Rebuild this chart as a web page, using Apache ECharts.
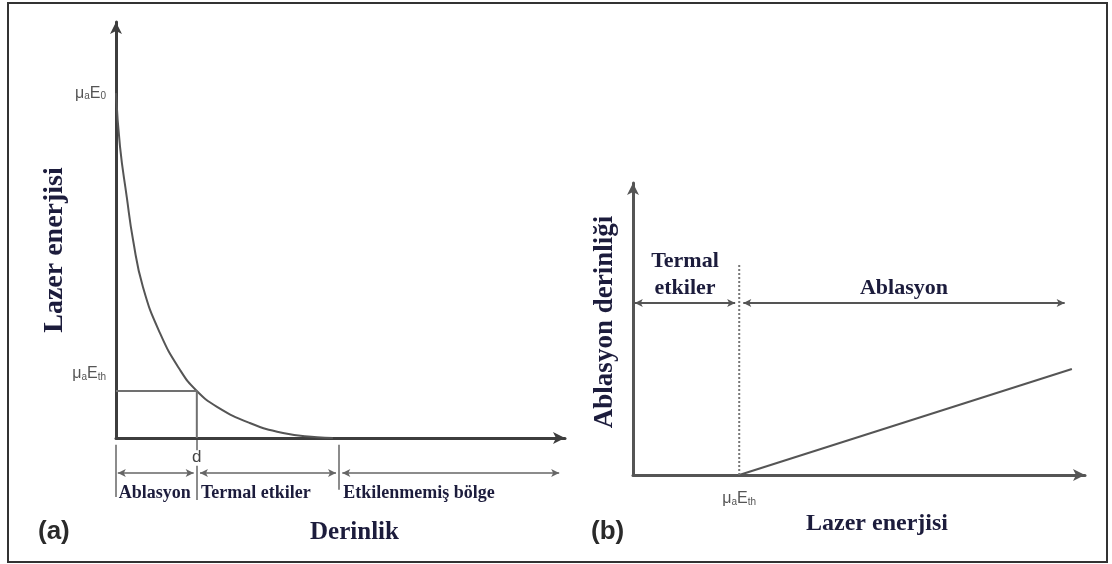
<!DOCTYPE html>
<html>
<head>
<meta charset="utf-8">
<title>Lazer ablasyonu</title>
<script src="https://cdn.jsdelivr.net/npm/echarts@6/dist/echarts.min.js"></script>
<style>
  html, body { margin: 0; padding: 0; background: #fff; }
  #chart { width: 1112px; height: 564px; }
</style>
</head>
<body>
<div id="chart"></div>
<script>
// (a) derinliğe göre lazer enerjisi
const depth = [0, 0.9, 2.4, 3.8, 6.0, 9.8, 14.3, 18.0, 22.5, 29.8, 37.2, 44.8, 48.3]
const energy = [82.9, 70.0, 57.9, 47.6, 36.3, 25.2, 16.3, 11.3, 7.5, 3.6, 1.2, 0.2, 0]
const surfaceEnergy = 82.9
const thresholdEnergy = 11.3
const thresholdDepth = 18.0
const depthZones = [0, 18.0, 49.7, 98.7]
const depthZoneNames = ['Ablasyon', 'Termal etkiler', 'Etkilenmemiş bölge']

// (b) lazer enerjisine göre ablasyon derinliği
const thresholdLaser = 23.5
const laserEnergy = [23.5, 97.1]
const ablationDepth = [0, 36.3]
const energyZones = [0, 23.5, 95.5]
const energyZoneNames = ['Termal\netkiler', 'Ablasyon']

const serif = 'Liberation Serif'
const sans = 'Liberation Sans'
const navy = '#1c1c3c'
const axisGray = '#3d3d3d'

const muRich = {
  m: { fontFamily: sans, fontSize: 16, color: '#555' },
  s: { fontFamily: sans, fontSize: 10, color: '#555', verticalAlign: 'bottom' },
  mu: { fontFamily: sans, fontSize: 16, color: '#555', padding: [0, 0, 34, 0] },
  su: { fontFamily: sans, fontSize: 10, color: '#555', verticalAlign: 'bottom', padding: [0, 0, 34, 0] },
}
function muLabel(sub, up) {
  const m = up ? 'mu' : 'm'
  const s = up ? 'su' : 's'
  return '{' + m + '|μ}{' + s + '|a}{' + m + '|E}{' + s + '|' + sub + '}'
}

function arrowAxis(color) {
  return {
    show: true,
    onZero: false,
    symbol: ['none', 'arrow'],
    symbolSize: [9, 12],
    lineStyle: { color: color, width: 3 },
  }
}

// çift yönlü oklar, her bölge için bir tane
function zoneArrows(bounds, names, y, gap) {
  return bounds.slice(0, -1).map((b, i) => [
    { coord: [b + (i === 0 ? 0.4 : gap), y], symbol: 'arrow', name: names[i] },
    { coord: [bounds[i + 1] - (i === bounds.length - 2 ? 0 : gap), y], symbol: 'arrow' },
  ])
}

const zoneLabel = {
  fontFamily: serif,
  fontWeight: 'bold',
  color: navy,
}

let myChart = echarts.init(document.getElementById('chart'))
const option = {
  animation: false,
  title: [
    { text: '(a)', left: 33, top: 514 },
    { text: '(b)', left: 586, top: 514 },
  ].map((t) => ({
    ...t,
    textStyle: { fontFamily: sans, fontSize: 26, fontWeight: 'bold', color: '#2a2a2a' },
  })),
  graphic: [
    {
      type: 'rect',
      shape: { x: 8, y: 3, width: 1099, height: 559 },
      style: { fill: 'none', stroke: '#333', lineWidth: 2 },
      silent: true,
    },
  ],
  grid: [
    { left: 116, top: 22, width: 449, height: 416 },
    { left: 116, top: 440, width: 449, height: 60 },
    { left: 633, top: 183, width: 452, height: 292 },
  ],
  xAxis: [
    {
      gridIndex: 0,
      type: 'value',
      min: 0,
      max: 100,
      axisLine: arrowAxis(axisGray),
      axisTick: { show: false },
      splitLine: { show: false },
      axisLabel: {
        customValues: [thresholdDepth],
        formatter: () => 'd',
        margin: 11,
        fontFamily: sans,
        fontSize: 17,
        color: '#444',
      },
      name: 'Derinlik',
      nameLocation: 'middle',
      nameGap: 82,
      nameTextStyle: { ...zoneLabel, fontSize: 25, padding: [0, 0, 0, 28] },
    },
    { gridIndex: 1, type: 'value', min: 0, max: 100, show: false },
    {
      gridIndex: 2,
      type: 'value',
      min: 0,
      max: 100,
      axisLine: arrowAxis('#555'),
      axisTick: { show: false },
      splitLine: { show: false },
      axisLabel: {
        customValues: [thresholdLaser],
        formatter: () => muLabel('th'),
        rich: muRich,
        margin: 16,
      },
      name: 'Lazer enerjisi',
      nameLocation: 'middle',
      nameGap: 29,
      nameTextStyle: { ...zoneLabel, fontSize: 24, padding: [0, 0, 0, 36] },
    },
  ],
  yAxis: [
    {
      gridIndex: 0,
      type: 'value',
      min: 0,
      max: 100,
      axisLine: arrowAxis(axisGray),
      axisTick: { show: false },
      splitLine: { show: false },
      axisLabel: {
        customValues: [surfaceEnergy, thresholdEnergy],
        formatter: (v) => (v === thresholdEnergy ? muLabel('th', true) : muLabel('0')),
        rich: muRich,
        margin: 10,
      },
      name: 'Lazer enerjisi',
      nameLocation: 'middle',
      nameRotate: 90,
      nameGap: 46,
      nameTextStyle: { ...zoneLabel, fontSize: 28, padding: [0, 40, 0, 0] },
    },
    { gridIndex: 1, type: 'value', min: 0, max: 10, show: false },
    {
      gridIndex: 2,
      type: 'value',
      min: 0,
      max: 100,
      axisLine: arrowAxis('#555'),
      axisTick: { show: false },
      splitLine: { show: false },
      axisLabel: { show: false },
      name: 'Ablasyon derinliği',
      nameLocation: 'middle',
      nameRotate: 90,
      nameGap: 14,
      nameTextStyle: { ...zoneLabel, fontSize: 27, padding: [0, 0, 0, 14] },
    },
  ],
  series: [
    {
      // enerji eğrisi
      type: 'line',
      xAxisIndex: 0,
      yAxisIndex: 0,
      data: depth.map((d, i) => [d, energy[i]]),
      smooth: 0.5,
      showSymbol: false,
      lineStyle: { color: '#555', width: 2 },
      silent: true,
    },
    {
      // eşik enerjisi ve d
      type: 'line',
      xAxisIndex: 0,
      yAxisIndex: 0,
      data: [
        [0, thresholdEnergy],
        [thresholdDepth, thresholdEnergy],
        [thresholdDepth, 0],
      ],
      showSymbol: false,
      lineStyle: { color: '#707070', width: 2 },
      silent: true,
    },
    {
      // bölge sınırları ve oklar
      type: 'line',
      xAxisIndex: 1,
      yAxisIndex: 1,
      data: [[0, 0]],
      showSymbol: false,
      lineStyle: { opacity: 0 },
      silent: true,
      markLine: {
        silent: true,
        animation: false,
        symbol: 'none',
        symbolSize: [6, 8],
        lineStyle: { color: '#666', width: 1.5, type: 'solid' },
        label: {
          ...zoneLabel,
          fontSize: 18,
          position: 'insideStartBottom',
          distance: [1, 11],
          formatter: (p) => p.name,
        },
        data: [
          [{ coord: [depthZones[0], 9.2] }, { coord: [depthZones[0], 0.5] }],
          [{ coord: [depthZones[1], 10] }, { coord: [depthZones[1], 8.3] }],
          [{ coord: [depthZones[1], 5.7] }, { coord: [depthZones[1], 0] }],
          [{ coord: [depthZones[2], 9.2] }, { coord: [depthZones[2], 1.7] }],
        ]
          .map((l) => [{ ...l[0], label: { show: false } }, l[1]])
          .concat(zoneArrows(depthZones, depthZoneNames, 4.5, 0.7)),
      },
    },
    {
      // ablasyon derinliği
      type: 'line',
      xAxisIndex: 2,
      yAxisIndex: 2,
      data: laserEnergy.map((e, i) => [e, ablationDepth[i]]),
      showSymbol: false,
      lineStyle: { color: '#555', width: 2 },
      silent: true,
    },
    {
      // eşik çizgisi
      type: 'line',
      xAxisIndex: 2,
      yAxisIndex: 2,
      data: [
        [thresholdLaser, 0],
        [thresholdLaser, 71.9],
      ],
      showSymbol: false,
      lineStyle: { color: '#777', width: 2, type: 'dotted' },
      silent: true,
      markLine: {
        silent: true,
        animation: false,
        symbolSize: [6, 8],
        lineStyle: { color: '#555', width: 2, type: 'solid' },
        label: {
          ...zoneLabel,
          fontSize: 22,
          lineHeight: 27,
          position: 'insideMiddleTop',
          distance: 1,
          formatter: (p) => p.name,
        },
        data: zoneArrows(energyZones, energyZoneNames, 58.9, 0.9),
      },
    },
  ],
}
myChart.setOption(option)
window.onresize = myChart.resize
</script>
</body>
</html>
